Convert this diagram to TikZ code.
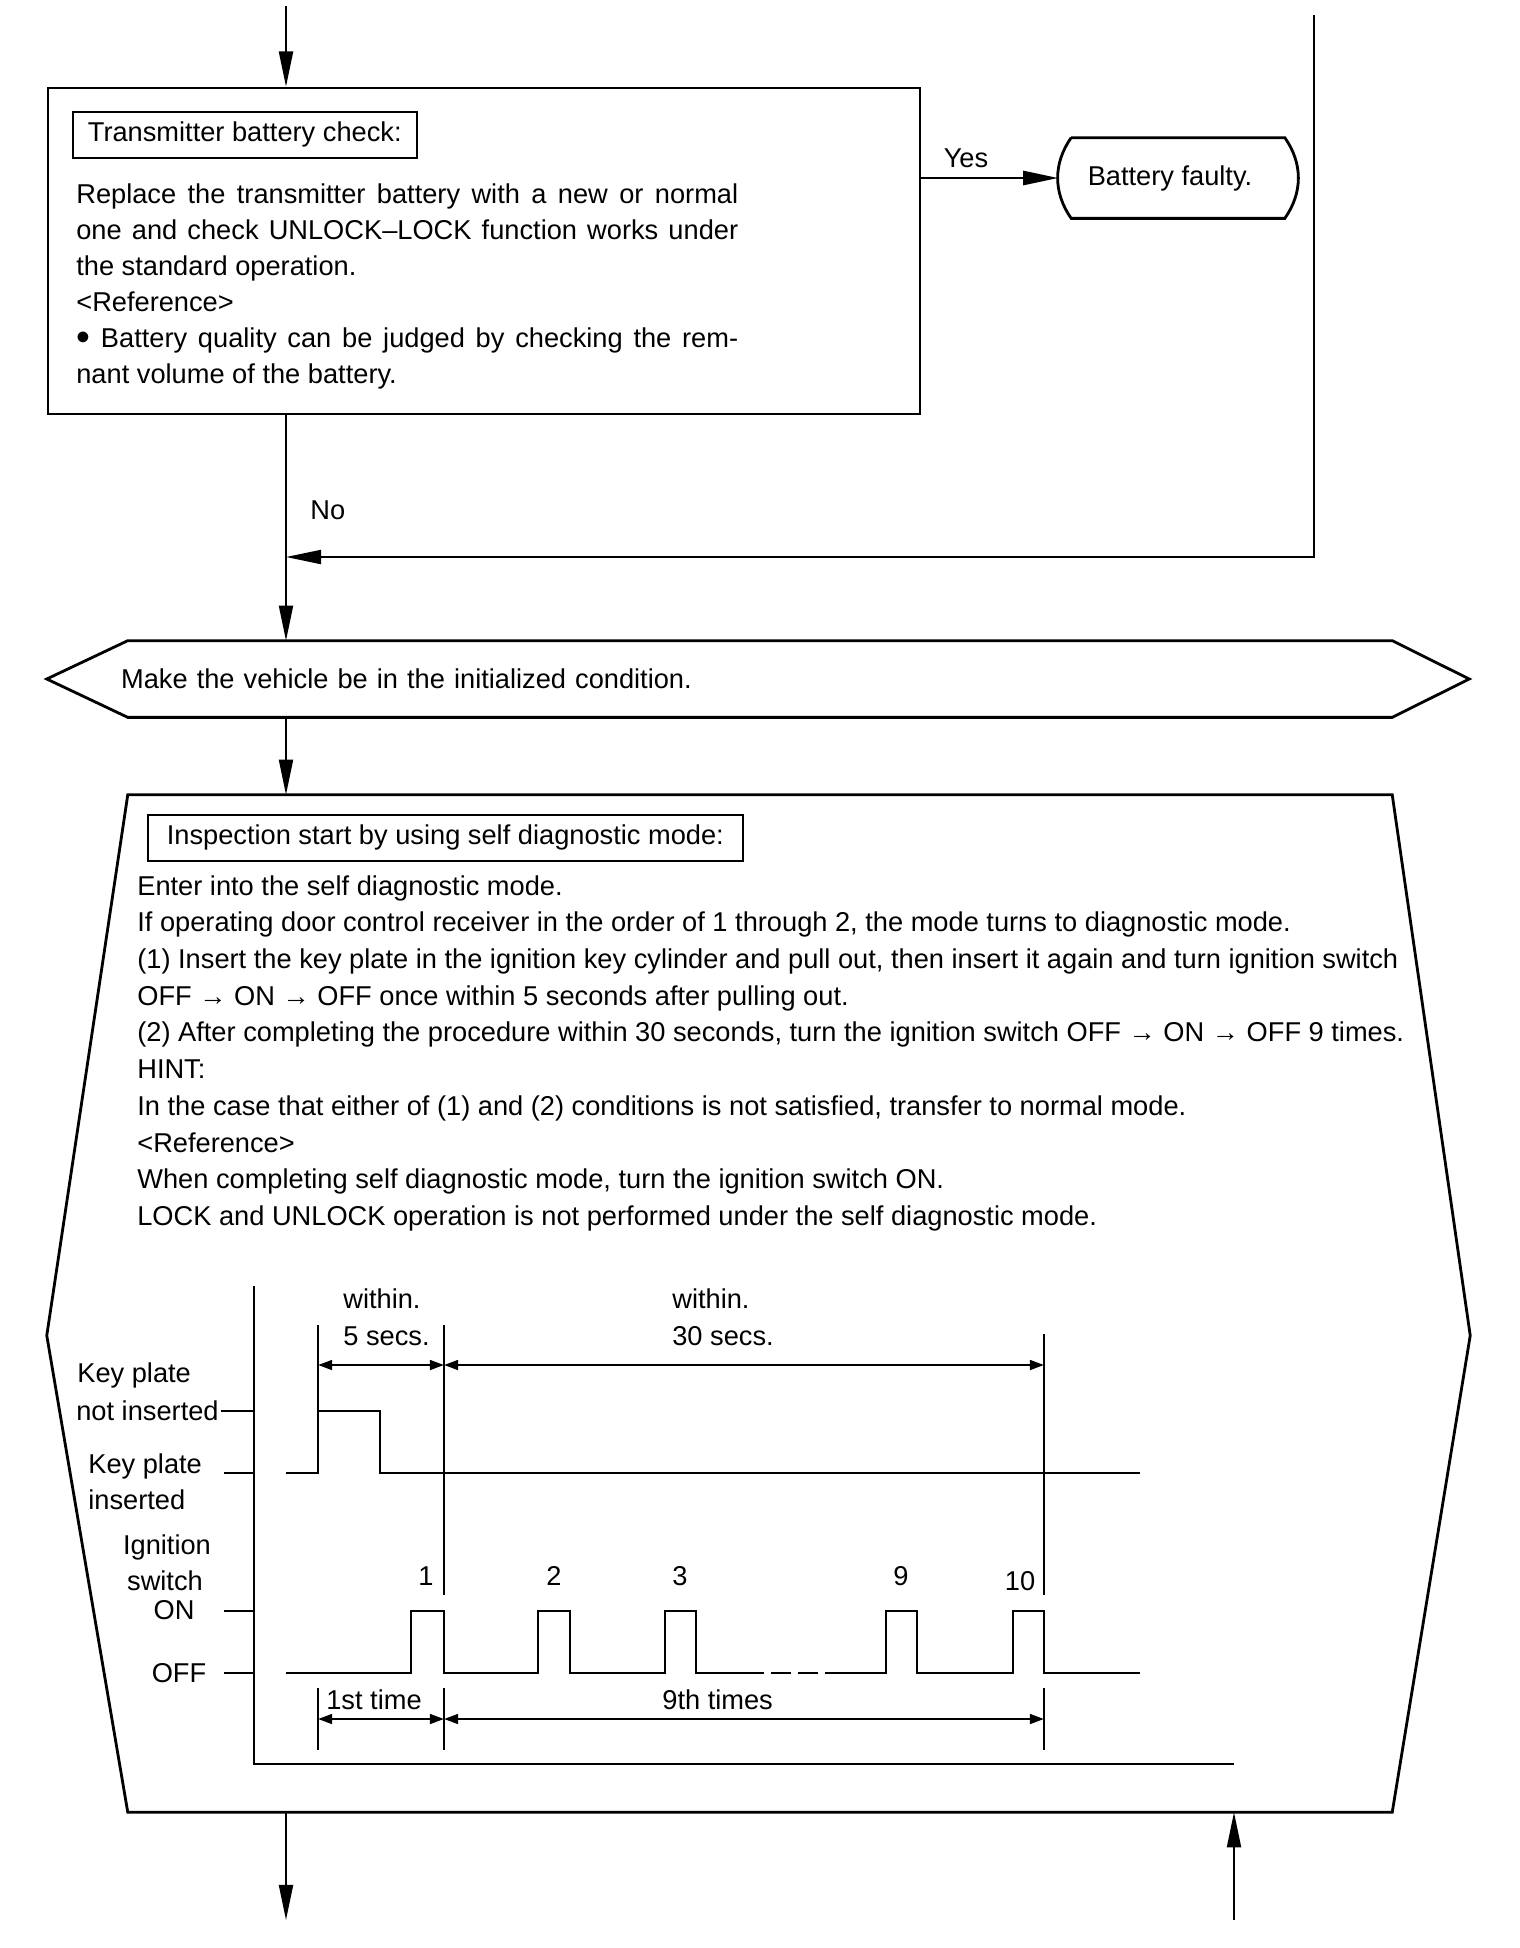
\documentclass[tikz,border=0pt]{standalone}
\usepackage{fontspec}
\setmainfont{Liberation Sans}
\usetikzlibrary{positioning}
\usetikzlibrary{calc}
\usetikzlibrary{arrows.meta}

\begin{document}
\begin{tikzpicture}[x=0.02cm, y=-0.02cm,
    every node/.style={font=\fontsize{15.5}{20.5}\selectfont, inner sep=0pt},
    box/.style={draw, line width=1.6pt},
    titlebox/.style={draw, line width=1pt, minimum height=0.92cm, inner xsep=0.3cm},
    flow/.style={line width=1.1pt, -{Triangle[length=20pt,width=8pt]}},
    wave/.style={line width=1.4pt},
    guide/.style={line width=0.8pt},
    dim/.style={line width=1.4pt, {Triangle[length=8pt,width=5.5pt]}-{Triangle[length=8pt,width=5.5pt]}},
    tick/.style={line width=1.4pt}]

    \useasboundingbox (0,0) rectangle (1520,1948);

    \coordinate (top) at (286,6);
    \coordinate (ret) at (1314,15);
    \coordinate (join) at (286,557);

    \node[box, minimum width=17.44cm, minimum height=6.52cm] (check) at (484,251) {};
    \node[titlebox, anchor=north west] (checktitle) at (72,111) {Transmitter battery check:};
    \node[anchor=north west, text width=13.24cm, align=justify] (checkbody) at (76,183)
        {Replace the transmitter battery with a new or normal\linebreak
         one and check UNLOCK--LOCK function works under\linebreak
         the standard operation.\\
         <Reference>\\
         \raisebox{-0.12em}{\scalebox{1.45}{\textbullet}}\ Battery quality can be judged by checking the rem-\linebreak
         nant volume of the battery.};

    \node[minimum width=4.26cm, minimum height=1.6cm] (fault) at (1178,178) {Battery faulty.\hspace*{0.32cm}};
    \draw[box] (fault.north west) -- (fault.north east) to[bend left=35] (fault.south east)
        -- (fault.south west) to[bend left=35] (fault.north west);
    \coordinate (faultin) at ($(fault.west)+(-13,0)$);

    \draw[flow] (top) -- (check.north -| top);
    \draw[flow, line width=1.6pt] (check.east |- faultin) -- (faultin);
    \node[anchor=mid] (yes) at (966,163) {Yes};
    \draw[flow] (ret) |- (join);
    \draw[line width=1.1pt] (check.south -| top) -- (join);
    \node[anchor=mid west] (no) at (310,515) {No};

    \node[minimum width=25.28cm, minimum height=1.52cm, text width=25.28cm, align=left] (init) at (760,679)
        {\hspace*{-0.14cm}Make the vehicle be in the initialized condition.};
    \draw[box] (init.north west) -- (init.north east) -- ($(init.east)+(77,0)$) -- (init.south east)
        -- (init.south west) -- ($(init.west)+(-81,0)$) -- cycle;
    \draw[flow] (join) -- (init.north -| top);

    \node[minimum width=25.28cm, minimum height=20.34cm] (insp) at (760,1303.5) {};
    \draw[box] (insp.north west) -- (insp.north east) -- ($(insp.east)+(78,32)$) -- (insp.south east)
        -- (insp.south west) -- ($(insp.west)+(-81,32)$) -- cycle;
    \draw[flow] (init.south -| top) -- (insp.north -| top);
    \node[titlebox, anchor=north west, minimum width=11.9cm] (insptitle) at (147,814)
        {Inspection start by using self diagnostic mode:};
    \node[anchor=north west, align=left, font=\fontsize{15.5}{20.9}\selectfont] (inspbody) at (137,875)
        {Enter into the self diagnostic mode.\\
         If operating door control receiver in the order of 1 through 2, the mode turns to diagnostic mode.\\
         (1) Insert the key plate in the ignition key cylinder and pull out, then insert it again and turn ignition switch\\
         OFF → ON → OFF once within 5 seconds after pulling out.\\
         (2) After completing the procedure within 30 seconds, turn the ignition switch OFF → ON → OFF 9 times.\\
         HINT:\\
         In the case that either of (1) and (2) conditions is not satisfied, transfer to normal mode.\\
         <Reference>\\
         When completing self diagnostic mode, turn the ignition switch ON.\\
         LOCK and UNLOCK operation is not performed under the self diagnostic mode.};

    \draw[line width=1.4pt] (254,1286) -- (254,1764) -- (1234,1764);
    \draw[tick] (221,1411) -- (254,1411);
    \draw[tick] (224,1473) -- (254,1473);
    \draw[tick] (224,1611) -- (254,1611);
    \draw[tick] (224,1673) -- (254,1673);
    \node[anchor=mid west] (kpout) at (77,1378) {Key plate};
    \node[anchor=mid east] (kpout2) at (219,1416) {not inserted};
    \node[anchor=mid west] (kpin) at (88,1469) {Key plate};
    \node[anchor=mid west] (kpin2) at (88,1505) {inserted};
    \node[anchor=mid] (ign) at (167,1550) {Ignition};
    \node[anchor=mid] (ign2) at (165,1586) {switch};
    \node[anchor=mid] (on) at (174,1615) {ON};
    \node[anchor=mid] (off) at (179,1678) {OFF};

    \draw[wave] (286,1473) -- (318,1473) -- (318,1411) -- (380,1411) -- (380,1473) -- (1140,1473);
    \draw[wave] (286,1673) -- (411,1673) -- (411,1611) -- (444,1611) -- (444,1673)
        -- (538,1673) -- (538,1611) -- (570,1611) -- (570,1673)
        -- (665,1673) -- (665,1611) -- (696,1611) -- (696,1673) -- (764,1673);
    \draw[wave] (771,1673) -- (791,1673);
    \draw[wave] (798,1673) -- (818,1673);
    \draw[wave] (825,1673) -- (886,1673) -- (886,1611) -- (917,1611) -- (917,1673)
        -- (1013,1673) -- (1013,1611) -- (1044,1611) -- (1044,1673) -- (1140,1673);

    \draw[guide] (318,1325) -- (318,1411);
    \draw[guide] (444,1325) -- (444,1595);
    \draw[guide] (1044,1334) -- (1044,1595);
    \draw[guide] (318,1688) -- (318,1750);
    \draw[guide] (444,1688) -- (444,1750);
    \draw[guide] (1044,1688) -- (1044,1750);
    \draw[dim] (318,1365) -- (444,1365);
    \draw[dim] (444,1365) -- (1044,1365);
    \draw[dim] (318,1719) -- (444,1719);
    \draw[dim] (444,1719) -- (1044,1719);

    \node[anchor=mid west] (w5) at (343,1304) {within.};
    \node[anchor=mid west] (s5) at (343,1341) {5 secs.};
    \node[anchor=mid west] (w30) at (672,1304) {within.};
    \node[anchor=mid west] (s30) at (672,1341) {30 secs.};
    \node[anchor=mid west] (first) at (326,1705) {1st time};
    \node[anchor=mid west] (ninth) at (662,1705) {9th times};
    \node[anchor=mid] (n1) at (426,1581) {1};
    \node[anchor=mid] (n2) at (554,1581) {2};
    \node[anchor=mid] (n3) at (680,1581) {3};
    \node[anchor=mid] (n9) at (901,1581) {9};
    \node[anchor=mid] (n10) at (1020,1586) {10};

    \coordinate (outl) at (286,1920);
    \coordinate (inr) at (1234,1920);
    \draw[flow] (insp.south -| top) -- (outl);
    \draw[flow] (inr) -- (insp.south -| inr);
\end{tikzpicture}
\end{document}
